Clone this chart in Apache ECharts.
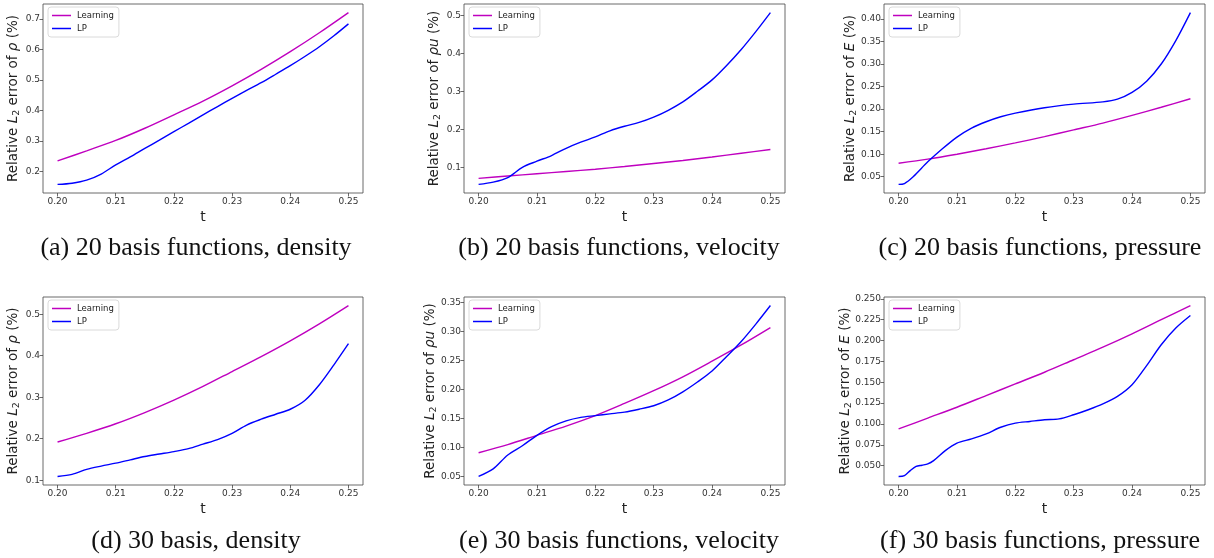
<!DOCTYPE html>
<html>
<head>
<meta charset="utf-8">
<script src="https://cdn.jsdelivr.net/npm/echarts@6/dist/echarts.min.js"></script>
<style>
  html, body { margin: 0; padding: 0; background: #ffffff; }
  #chart { width: 1214px; height: 558px; }
</style>
</head>
<body>
<div id="chart"></div>
<script>
// Time samples shared by the smooth "Learning" curves
const tCoarse = [0.200, 0.205, 0.210, 0.215, 0.220, 0.225, 0.230, 0.235, 0.240, 0.245, 0.250];
// Finer time samples for the LP curves
const tFine = [0.2000, 0.2025, 0.2050, 0.2075, 0.2100, 0.2125, 0.2150, 0.2175, 0.2200, 0.2225,
               0.2250, 0.2275, 0.2300, 0.2325, 0.2350, 0.2375, 0.2400, 0.2425, 0.2450, 0.2475, 0.2500];
const tLpC = [0.2000, 0.2010, 0.2025, 0.2050, 0.2075, 0.2100, 0.2125, 0.2150, 0.2175, 0.2200,
              0.2250, 0.2300, 0.2350, 0.2375, 0.2400, 0.2425, 0.2450, 0.2475, 0.2500];
const tLpF = [0.2000, 0.2010, 0.2020, 0.2030, 0.2040, 0.2050, 0.2060, 0.2080, 0.2100, 0.2125,
              0.2150, 0.2175, 0.2200, 0.2225, 0.2250, 0.2275, 0.2300, 0.2325, 0.2350, 0.2375,
              0.2400, 0.2425, 0.2450, 0.2475, 0.2500];

// (a) 20 basis functions, density
const learnA = [0.235, 0.268, 0.302, 0.342, 0.386, 0.431, 0.481, 0.535, 0.593, 0.655, 0.721];
const lpA = [0.158, 0.162, 0.172, 0.192, 0.222, 0.248, 0.276, 0.303, 0.331, 0.358, 0.386,
             0.413, 0.440, 0.466, 0.4915, 0.519, 0.547, 0.577, 0.609, 0.645, 0.684];
// (b) 20 basis functions, velocity
const learnB = [0.071, 0.077, 0.083, 0.089, 0.095, 0.102, 0.110, 0.118, 0.127, 0.137, 0.147];
const lpB = [0.055, 0.061, 0.073, 0.100, 0.116, 0.131, 0.150, 0.166, 0.180, 0.196, 0.208,
             0.218, 0.232, 0.250, 0.272, 0.300, 0.330, 0.368, 0.410, 0.457, 0.507];
// (c) 20 basis functions, pressure
const learnC = [0.080, 0.089, 0.100, 0.112, 0.125, 0.139, 0.154, 0.169, 0.186, 0.204, 0.223];
const lpC = [0.033, 0.035, 0.050, 0.083, 0.112, 0.138, 0.158, 0.172, 0.183, 0.191,
             0.203, 0.211, 0.216, 0.222, 0.237, 0.262, 0.300, 0.352, 0.414];
// (d) 30 basis, density
const learnD = [0.192, 0.213, 0.236, 0.263, 0.293, 0.326, 0.362, 0.398, 0.436, 0.477, 0.521];
const lpD = [0.109, 0.114, 0.126, 0.134, 0.141, 0.149, 0.157, 0.163, 0.169, 0.176, 0.187,
             0.198, 0.213, 0.233, 0.247, 0.259, 0.271, 0.292, 0.330, 0.378, 0.429];
// (e) 30 basis functions, velocity
const learnE = [0.091, 0.105, 0.121, 0.137, 0.155, 0.176, 0.198, 0.222, 0.249, 0.277, 0.307];
const lpE = [0.050, 0.063, 0.087, 0.103, 0.121, 0.136, 0.146, 0.152, 0.155, 0.158, 0.161,
             0.166, 0.172, 0.182, 0.196, 0.213, 0.232, 0.257, 0.283, 0.313, 0.345];
// (f) 30 basis functions, pressure
const learnF = [0.094, 0.107, 0.120, 0.134, 0.148, 0.162, 0.177, 0.192, 0.208, 0.225, 0.242];
const lpF = [0.037, 0.038, 0.044, 0.049, 0.0505, 0.052, 0.056, 0.068, 0.077, 0.082,
             0.088, 0.096, 0.101, 0.103, 0.105, 0.106, 0.111, 0.117, 0.124, 0.133,
             0.147, 0.170, 0.195, 0.215, 0.230];

// Tick labels
const xTicks = [0.20, 0.21, 0.22, 0.23, 0.24, 0.25];
const yTicksA = [0.2, 0.3, 0.4, 0.5, 0.6, 0.7];
const yTicksB = [0.1, 0.2, 0.3, 0.4, 0.5];
const yTicksC = [0.05, 0.10, 0.15, 0.20, 0.25, 0.30, 0.35, 0.40];
const yTicksD = [0.1, 0.2, 0.3, 0.4, 0.5];
const yTicksE = [0.05, 0.10, 0.15, 0.20, 0.25, 0.30, 0.35];
const yTicksF = [0.050, 0.075, 0.100, 0.125, 0.150, 0.175, 0.200, 0.225, 0.250];

// Panel captions
const captions = [
  '(a) 20 basis functions, density',
  '(b) 20 basis functions, velocity',
  '(c) 20 basis functions, pressure',
  '(d) 30 basis, density',
  '(e) 30 basis functions, velocity',
  '(f) 30 basis functions, pressure'
];
// Quantity shown on each y-axis label
const quantities = ['ρ', 'ρu', 'E', 'ρ', 'ρu', 'E'];

const SERIES_NAMES = ['Learning', 'LP'];
const COLORS = ['#bf00bf', '#0000ff'];

const panels = [
  { learn: learnA, lpT: tFine, lp: lpA, yTicks: yTicksA, dec: 1 },
  { learn: learnB, lpT: tFine, lp: lpB, yTicks: yTicksB, dec: 1 },
  { learn: learnC, lpT: tLpC,  lp: lpC, yTicks: yTicksC, dec: 2 },
  { learn: learnD, lpT: tFine, lp: lpD, yTicks: yTicksD, dec: 1 },
  { learn: learnE, lpT: tFine, lp: lpE, yTicks: yTicksE, dec: 2 },
  { learn: learnF, lpT: tLpF,  lp: lpF, yTicks: yTicksF, dec: 3 }
];

// Page layout of the six plot boxes and their captions
const colLeft = [43, 464, 884];
const colWidth = [320, 321, 321];
const rowTop = [4, 297];
const rowHeight = [189, 188];
const captionCenterX = [196, 619, 1040];
const captionCenterY = [248, 541];

const SANS = 'DejaVu Sans';
const AXIS_COLOR = '#444';

function zip(xs, ys) { return xs.map((x, i) => [x, ys[i]]); }

const grid = [], xAxis = [], yAxis = [], series = [], legend = [], graphic = [];

panels.forEach((p, i) => {
  const col = i % 3, row = Math.floor(i / 3);
  const left = colLeft[col], top = rowTop[row];
  grid.push({
    left: left, top: top, width: colWidth[col], height: rowHeight[row],
    show: true, borderColor: AXIS_COLOR, borderWidth: 0.8, backgroundColor: '#fff'
  });

  // autoscale with a 5% margin on each side
  const all = p.learn.concat(p.lp);
  const lo = Math.min(...all), hi = Math.max(...all);
  const pad = (hi - lo) * 0.05;
  const xPad = (0.25 - 0.20) * 0.05;

  xAxis.push({
    type: 'value', gridIndex: i, min: 0.20 - xPad, max: 0.25 + xPad,
    name: 't', nameLocation: 'middle', nameGap: 17,
    nameTextStyle: { fontFamily: SANS, fontSize: 14, color: '#222' },
    axisLine: { show: false },
    axisTick: { show: true, length: 3.5, customValues: xTicks, lineStyle: { color: AXIS_COLOR, width: 0.8 } },
    axisLabel: { customValues: xTicks, margin: 4, fontFamily: SANS, fontSize: 9, color: '#333',
                 formatter: v => v.toFixed(2) },
    splitLine: { show: false }
  });

  const q = quantities[i];
  yAxis.push({
    type: 'value', gridIndex: i, min: lo - pad, max: hi + pad,
    name: '{n|Relative }{i|L}{s|2}{n| error of }{i|' + q + '}{n| (%)}',
    nameLocation: 'middle', nameRotate: 90, nameGap: p.dec === 1 ? 21 : (p.dec === 2 ? 25 : 30),
    nameMoveOverlap: false,
    nameTextStyle: {
      fontFamily: SANS, fontSize: 13.5, color: '#222',
      rich: {
        n: { fontFamily: SANS, fontSize: 13.5, color: '#222', lineHeight: 18 },
        i: { fontFamily: SANS, fontSize: 13.5, fontStyle: 'italic', color: '#222', lineHeight: 18 },
        s: { fontFamily: SANS, fontSize: 9.5, color: '#222', lineHeight: 12, verticalAlign: 'bottom' }
      }
    },
    axisLine: { show: false },
    axisTick: { show: true, length: 3.5, customValues: p.yTicks, lineStyle: { color: AXIS_COLOR, width: 0.8 } },
    axisLabel: { customValues: p.yTicks, margin: 3, fontFamily: SANS, fontSize: 9, color: '#333',
                 formatter: v => v.toFixed(p.dec) },
    splitLine: { show: false }
  });

  series.push({
    name: SERIES_NAMES[0], type: 'line', xAxisIndex: i, yAxisIndex: i,
    data: zip(tCoarse, p.learn), showSymbol: false, smooth: 0.3,
    lineStyle: { color: COLORS[0], width: 1.4 }, itemStyle: { color: COLORS[0] },
    animation: false, z: 2
  });
  series.push({
    name: SERIES_NAMES[1], type: 'line', xAxisIndex: i, yAxisIndex: i,
    data: zip(p.lpT, p.lp), showSymbol: false, smooth: 0.3,
    lineStyle: { color: COLORS[1], width: 1.4 }, itemStyle: { color: COLORS[1] },
    animation: false, z: 3
  });

  legend.push({
    data: SERIES_NAMES, orient: 'vertical', left: left + 5, top: top + 3,
    icon: 'rect', itemWidth: 19, itemHeight: 1.5, itemGap: 4,
    padding: [4, 5, 4, 4], backgroundColor: '#fff',
    borderColor: '#d0d0d0', borderWidth: 0.8, borderRadius: 3,
    textStyle: { fontFamily: SANS, fontSize: 8.5, color: '#222', padding: [0, 0, 0, 1] },
    selectedMode: false
  });

  graphic.push({
    type: 'text', x: captionCenterX[col], y: captionCenterY[row],
    style: { text: captions[i], font: '26px "Liberation Serif"', fill: '#111',
             align: 'center', verticalAlign: 'middle' }
  });
});

const chart = echarts.init(document.getElementById('chart'), null, { renderer: 'canvas' });
chart.setOption({
  backgroundColor: '#ffffff',
  animation: false,
  grid, xAxis, yAxis, series, legend, graphic
});
</script>
</body>
</html>
